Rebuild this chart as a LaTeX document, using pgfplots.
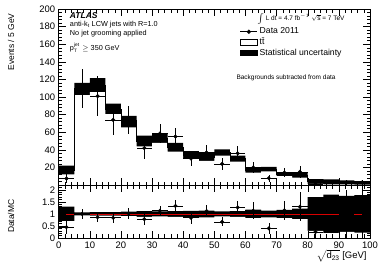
\documentclass[border=0pt]{standalone}
\usepackage{fontspec}
\setmainfont{Liberation Sans}
\usepackage{pgfplots}
\pgfplotsset{compat=1.18}
\usepackage{pgfplotstable}

\pgfplotstableread{
x mc up lo rup rlo
0 17 22 12 1.3 0.7
5 109 116 102 1.065 0.935
10 113.5 121.5 105.5 1.07 0.93
15 86.5 92.5 80.5 1.07 0.93
20 72 78.5 65.5 1.09 0.91
25 50 56 44 1.12 0.88
30 53 58 48 1.10 0.90
35 43 48 38 1.12 0.88
40 34 38.5 29.5 1.13 0.87
45 32 36.5 27.5 1.14 0.86
50 37 40.5 33.5 1.10 0.90
55 30 33.5 26.5 1.12 0.88
60 17 20 14 1.18 0.82
65 18 20.5 15.5 1.14 0.86
70 12 14 10 1.17 0.83
75 11 13.5 8.5 1.22 0.78
80 4 6.8 1.2 1.70 0.30
85 3.5 6.3 0.7 1.80 0.20
90 3 5.25 0.75 1.75 0.25
95 2.5 4.45 0.55 1.78 0.22
100 2.5 4.45 0.55 1.78 0.22
}\mctab

\pgfplotstableread{
x y ye r re
2.5 7.4 5 0.45 0.3
7.5 110 22 1.0 0.2
12.5 101 23 0.86 0.2
17.5 74 17 0.84 0.2
22.5 74 16 1.02 0.22
27.5 42 12 0.78 0.24
32.5 58.5 11 1.13 0.21
37.5 55 10 1.33 0.23
42.5 30 8 0.84 0.24
47.5 37 8 1.12 0.25
52.5 24 7 0.67 0.19
57.5 36 8 1.27 0.27
62.5 20 6 1.13 0.35
67.5 7.7 4 0.40 0.22
72.5 14 5 1.15 0.4
77.5 15 7 1.30 0.6
82.5 1 1.5 0.25 0.4
92.5 3 3 1.0 1.0
97.5 3 3 1.2 1.2
}\datatab

\begin{document}
\begin{tikzpicture}
\path[use as bounding box] (-58.7bp,-27bp) rectangle (331.3bp,238bp);
\pgfplotsset{
  every axis/.append style={
    scale only axis, width=311.3bp, xmin=0, xmax=100, axis on top,
    tick align=inside, major tick length=7bp, minor tick length=3.5bp,
    every tick/.style={black, line width=0.4pt},
    every minor tick/.style={black, line width=0.4pt},
    xtick={0,10,...,100}, minor x tick num=4,
    /pgf/number format/assume math mode=true,
    tick label style={font=\fontsize{9.5}{10}\selectfont},
    axis line style={line width=0.5pt},
  }
}
\begin{axis}[name=main, at={(0,53bp)}, anchor=south west, height=176bp,
  ymin=0, ymax=200, ytick={20,40,...,200}, minor ytick={4,8,...,196},
  xticklabels={},
  legend style={at={(rel axis cs:0.582,0.905)}, anchor=north west, draw=none, fill=none,
    font=\fontsize{8.7}{8.7}\selectfont, row sep=-1.5pt, inner sep=0pt},
  legend cell align=left]
\addplot[const plot, fill=black, draw=none, forget plot] table[x=x,y=up]{\mctab} \closedcycle;
\addplot[const plot, fill=white, draw=none, forget plot] table[x=x,y=lo]{\mctab} \closedcycle;
\addplot[const plot, black, line width=0.6pt, forget plot] table[x=x,y=mc]{\mctab};
\addplot[only marks, mark=*, mark size=1.8bp, black, forget plot,
  error bars/.cd, x dir=both, x fixed=2.5, y dir=both, y explicit, error mark=none,
  error bar style={line width=0.6pt}] table[x=x, y=y, y error=ye]{\datatab};
\addlegendimage{black, mark=*, mark size=1.8bp, line width=0.6pt}
\addlegendentry{Data 2011}
\addlegendimage{area legend, draw=black, line width=0.6pt, fill=white}
\addlegendentry{t\={t}}
\addlegendimage{area legend, draw=black, fill=black}
\addlegendentry{Statistical uncertainty}
\node[anchor=west, font=\bfseries\itshape\fontsize{8.5}{9}\selectfont] at (rel axis cs:0.025,0.96) {ATLAS};
\node[anchor=west, font=\fontsize{7.3}{8}\selectfont] at (rel axis cs:0.025,0.913) {anti-k\textsubscript{t} LCW jets with R=1.0};
\node[anchor=west, font=\fontsize{7.3}{8}\selectfont] at (rel axis cs:0.025,0.858) {No jet grooming applied};
\node[anchor=west, font=\fontsize{7.3}{8}\selectfont, inner ysep=0pt] at (rel axis cs:0.025,0.78) {p\makebox[0pt][l]{\raisebox{3.6pt}{\fontsize{4.8}{5}\selectfont jet}}\raisebox{-2pt}{\fontsize{4.8}{5}\selectfont T}\hspace{3.5pt} $\geq$ 350 GeV};
\node[anchor=west, font=\fontsize{6.5}{7}\selectfont] at (rel axis cs:0.627,0.945) {$\int$ L dt = 4.7 fb$^{-1}$ $\sqrt{\mbox{s}}$ = 7 TeV};
\node[anchor=west, font=\fontsize{6.5}{7}\selectfont] at (rel axis cs:0.56,0.608) {Backgrounds subtracted from data};
\end{axis}
\begin{axis}[name=ratio, at={(0,0)}, anchor=south west, height=53bp,
  ymin=0, ymax=2.2, ytick={0,0.5,1,1.5,2}, minor ytick={0.1,0.2,...,2.1}]
\addplot[const plot, fill=black, draw=none] table[x=x,y=rup]{\mctab} \closedcycle;
\addplot[const plot, fill=white, draw=none] table[x=x,y=rlo]{\mctab} \closedcycle;
\addplot[red!85!black, line width=0.8pt] coordinates {(0,1) (100,1)};
\addplot[only marks, mark=*, mark size=1.8bp, black,
  error bars/.cd, x dir=both, x fixed=2.5, y dir=both, y explicit, error mark=none,
  error bar style={line width=0.6pt}] table[x=x, y=r, y error=re]{\datatab};
\end{axis}
\node[rotate=90, anchor=south east, font=\fontsize{8.5}{9}\selectfont] at ([xshift=-41bp,yshift=-1bp]main.north west) {Events / 5 GeV};
\node[rotate=90, anchor=south east, font=\fontsize{8.5}{9}\selectfont] at ([xshift=-41bp,yshift=-11bp]ratio.north west) {Data/MC};
\node[anchor=north east, font=\fontsize{9.5}{10}\selectfont] at ([yshift=-8bp]ratio.south east) {$\sqrt{\mbox{d\textsubscript{23}}}$ [GeV]};
\end{tikzpicture}
\end{document}
